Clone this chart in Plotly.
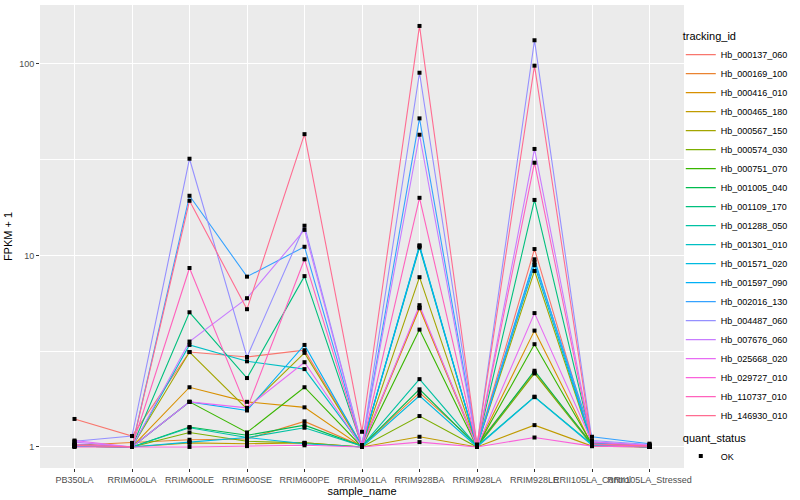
import plotly.graph_objects as go

samples = ["PB350LA", "RRIM600LA", "RRIM600LE", "RRIM600SE", "RRIM600PE", "RRIM901LA",
           "RRIM928BA", "RRIM928LA", "RRIM928LE", "RRII105LA_Control", "RRII105LA_Stressed"]

hb_000137_060 = [1.40, 1.14, 3.13, 2.95, 3.20, 1.02, 5.35, 1.02, 10.8, 1.05, 1.01]
hb_000169_100 = [1.02, 1.05, 1.09, 1.10, 1.36, 1.01, 1.92, 1.03, 2.45, 1.04, 1.01]
hb_000416_010 = [1.01, 1.00, 2.05, 1.72, 1.61, 1.00, 5.30, 1.00, 4.05, 1.02, 1.00]
hb_000465_180 = [1.01, 1.00, 1.05, 1.04, 1.05, 1.00, 1.13, 1.00, 1.30, 1.01, 1.00]
hb_000567_150 = [1.01, 1.00, 3.13, 1.58, 3.10, 1.01, 7.70, 1.01, 8.30, 1.03, 1.00]
hb_000574_030 = [1.01, 1.00, 1.19, 1.07, 1.05, 1.00, 1.45, 1.00, 2.42, 1.02, 1.00]
hb_000751_070 = [1.02, 1.00, 1.72, 1.19, 2.05, 1.00, 4.10, 1.00, 3.44, 1.03, 1.00]
hb_001005_040 = [1.02, 1.00, 1.27, 1.15, 1.30, 1.01, 2.00, 1.01, 2.50, 1.03, 1.01]
hb_001109_170 = [1.03, 1.00, 5.05, 2.29, 7.80, 1.01, 11.0, 1.01, 19.5, 1.06, 1.01]
hb_001288_050 = [1.02, 1.00, 1.26, 1.12, 1.26, 1.01, 2.26, 1.01, 1.83, 1.03, 1.00]
hb_001301_010 = [1.02, 1.00, 3.41, 2.80, 2.55, 1.01, 11.3, 1.01, 8.90, 1.04, 1.00]
hb_001571_020 = [1.01, 1.00, 1.06, 1.12, 1.04, 1.00, 1.85, 1.00, 1.82, 1.02, 1.00]
hb_001597_090 = [1.01, 1.00, 1.72, 1.55, 3.41, 1.01, 11.2, 1.01, 9.55, 1.05, 1.01]
hb_002016_130 = [1.01, 1.00, 20.5, 7.75, 11.1, 1.02, 52.0, 1.02, 9.20, 1.13, 1.04]
hb_004487_060 = [1.07, 1.14, 32.0, 2.95, 14.3, 1.02, 90.0, 1.02, 133.0, 1.08, 1.03]
hb_007676_060 = [1.06, 1.00, 3.55, 5.98, 13.6, 1.02, 42.7, 1.01, 36.0, 1.06, 1.02]
hb_025668_020 = [1.08, 1.00, 1.72, 1.60, 2.77, 1.00, 5.50, 1.00, 5.00, 1.06, 1.02]
hb_029727_010 = [1.03, 1.00, 1.00, 1.01, 1.02, 1.00, 1.06, 1.00, 1.12, 1.01, 1.00]
hb_110737_010 = [1.00, 1.00, 8.60, 1.58, 9.55, 1.00, 20.0, 1.00, 30.5, 1.03, 1.01]
hb_146930_010 = [1.02, 1.00, 19.3, 5.24, 43.0, 1.20, 158.0, 1.02, 98.0, 1.04, 1.01]

tracking_ids = ["Hb_000137_060", "Hb_000169_100", "Hb_000416_010", "Hb_000465_180", "Hb_000567_150",
                "Hb_000574_030", "Hb_000751_070", "Hb_001005_040", "Hb_001109_170", "Hb_001288_050",
                "Hb_001301_010", "Hb_001571_020", "Hb_001597_090", "Hb_002016_130", "Hb_004487_060",
                "Hb_007676_060", "Hb_025668_020", "Hb_029727_010", "Hb_110737_010", "Hb_146930_010"]
series_values = [hb_000137_060, hb_000169_100, hb_000416_010, hb_000465_180, hb_000567_150,
                 hb_000574_030, hb_000751_070, hb_001005_040, hb_001109_170, hb_001288_050,
                 hb_001301_010, hb_001571_020, hb_001597_090, hb_002016_130, hb_004487_060,
                 hb_007676_060, hb_025668_020, hb_029727_010, hb_110737_010, hb_146930_010]
colors = ["#F8766D", "#EA8331", "#D89000", "#C09B00", "#A3A500", "#7CAE00", "#39B600", "#00BB4E",
          "#00BF7D", "#00C1A3", "#00BFC4", "#00BAE0", "#00B0F6", "#35A2FF", "#9590FF", "#C77CFF",
          "#E76BF3", "#FA62DB", "#FF62BC", "#FF6C91"]

FONT = "Liberation Sans, Arial, sans-serif"

fig = go.Figure()
for name, vals, col in zip(tracking_ids, series_values, colors):
    fig.add_trace(go.Scatter(x=samples, y=vals, mode="lines", name=name,
                             line=dict(color=col, width=1.1), legend="legend"))

all_x, all_y = [], []
for vals in series_values:
    all_x.extend(samples)
    all_y.extend(vals)
fig.add_trace(go.Scatter(x=all_x, y=all_y, mode="markers", name="OK", legend="legend2",
                         marker=dict(symbol="square", size=4, color="black")))

fig.update_layout(
    width=800, height=500,
    margin=dict(l=40, r=116, t=5, b=32),
    paper_bgcolor="white", plot_bgcolor="#EBEBEB",
    font=dict(family=FONT, size=9, color="black"),
    xaxis=dict(type="category", categoryorder="array", categoryarray=samples,
               range=[-0.6, 10.6], showgrid=True, gridcolor="white", gridwidth=1.1,
               zeroline=False, showline=False, ticks="outside", ticklen=3, tickcolor="#333333",
               tickangle=0, automargin=False,
               tickfont=dict(size=9, color="#4D4D4D", family=FONT),
               title=dict(text="sample_name", font=dict(size=11, color="black", family=FONT), standoff=2)),
    yaxis=dict(type="log", range=[-0.11, 2.308], tickvals=[1, 10, 100], ticktext=["1", "10", "100"],
               showgrid=True, gridcolor="white", gridwidth=1.1, zeroline=False, showline=False,
               ticks="outside", ticklen=3, tickcolor="#333333", automargin=False,
               tickfont=dict(size=9, color="#4D4D4D", family=FONT),
               minor=dict(tickvals=[3.1623, 31.623], showgrid=True, gridcolor="white", gridwidth=0.5, ticks=""),
               title=dict(text="FPKM + 1", font=dict(size=11, color="black", family=FONT), standoff=4)),
    legend=dict(x=0.995, xanchor="left", y=0.955, yanchor="top", bgcolor="rgba(0,0,0,0)",
                title=dict(text="tracking_id", font=dict(size=11, family=FONT)),
                font=dict(size=9, family=FONT), itemwidth=30, tracegroupgap=0),
    legend2=dict(x=0.995, xanchor="left", y=0.088, yanchor="top", bgcolor="rgba(0,0,0,0)",
                 title=dict(text="quant_status", font=dict(size=11, family=FONT)),
                 font=dict(size=9, family=FONT), itemwidth=30),
)

fig.write_html("out.html", config={"displayModeBar": False},
               post_script="document.body.style.margin='0';document.body.style.padding='0';"
                           "document.body.style.overflow='hidden';")
